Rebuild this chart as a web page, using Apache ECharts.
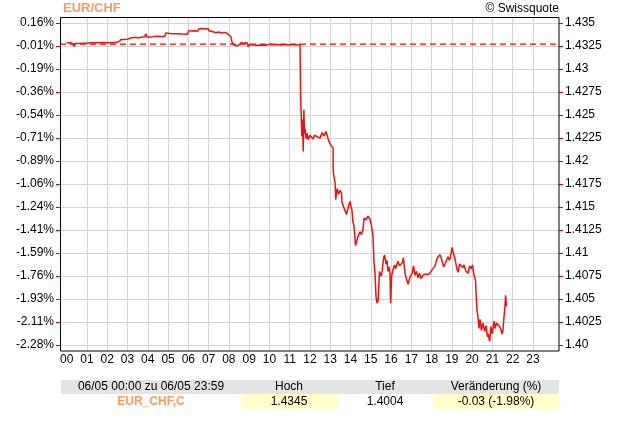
<!DOCTYPE html>
<html>
<head>
<meta charset="utf-8">
<script src="https://cdn.jsdelivr.net/npm/echarts@6/dist/echarts.min.js"></script>
<style>
html,body{margin:0;padding:0;background:#fff;}
#c{width:620px;height:440px;}
</style>
</head>
<body>
<div id="c"></div>
<script>
const hourLabels = ['00','01','02','03','04','05','06','07','08','09','10','11','12','13','14','15','16','17','18','19','20','21','22','23'];
const pctLabels = ['-2.28%','-2.11%','-1.93%','-1.76%','-1.59%','-1.41%','-1.24%','-1.06%','-0.89%','-0.71%','-0.54%','-0.36%','-0.19%','-0.01%','0.16%'];
const priceLabels = ['1.40','1.4025','1.405','1.4075','1.41','1.4125','1.415','1.4175','1.42','1.4225','1.425','1.4275','1.43','1.4325','1.435'];
const refPrice = [1.4327];
const tableHeader = ['06/05 00:00 zu 06/05 23:59','Hoch','Tief','Veränderung (%)'];
const tableRow = ['EUR_CHF,C','1.4345','1.4004','-0.03 (-1.98%)'];

const times = [
0.00,0.10,0.20,0.30,0.36,0.42,0.55,0.80,1.00,1.20,1.50,1.80,2.10,2.35,2.40,2.45,2.50,2.62,2.66,2.80,2.96,3.02,3.20,3.40,3.55,3.70,3.85,3.90,3.95,4.10,4.30,4.50,4.70,4.85,4.88,5.10,5.30,5.50,5.70,5.95,6.03,6.15,6.30,6.45,6.53,6.70,6.85,6.97,7.02,7.10,7.22,7.35,7.50,7.65,7.80,7.90,8.00,8.10,8.15,8.20,8.30,8.40,8.50,8.60,8.75,8.90,8.95,9.00,9.20,9.40,9.60,9.80,10.00,10.20,10.40,10.60,10.80,11.00,11.20,11.40,11.51,
11.54,11.57,11.60,11.63,11.67,11.70,11.73,11.76,11.81,11.86,11.92,12.00,12.08,12.15,12.22,12.30,12.40,12.50,12.60,12.69,12.79,12.86,12.94,13.04,13.14,
13.15,13.24,13.27,13.34,13.41,13.48,13.56,13.58,13.66,13.73,13.80,13.85,13.93,13.98,14.03,14.07,14.12,14.17,14.25,14.30,14.37,14.47,14.54,14.62,14.67,14.77,14.86,14.96,15.04,15.11,15.16,15.21,15.26,15.31,15.33,15.36,15.43,15.51,15.56,15.63,15.68,15.75,15.80,15.85,15.90,15.95,15.98,16.03,16.10,16.17,16.22,16.28,16.34,16.42,16.49,16.57,16.61,16.69,16.76,16.84,16.89,16.94,17.04,17.11,17.18,17.26,17.33,17.40,17.48,17.58,17.68,17.77,17.87,17.97,18.07,18.17,18.24,18.32,18.42,18.47,18.54,18.59,18.66,18.74,18.81,18.89,18.96,19.01,19.06,19.13,19.21,19.26,19.31,19.38,19.45,19.53,19.60,19.70,19.80,19.87,19.95,20.02,20.09,20.17,20.19,20.24,20.29,20.34,20.39,20.46,20.54,20.61,20.69,20.75,20.80,20.86,20.88,20.93,21.00,21.08,21.13,21.20,21.27,21.35,21.42,21.47,21.52,21.57,21.62,21.65,21.70,21.72
];
const prices = [
1.43289,1.43282,1.43285,1.43275,1.43246,1.43278,1.43278,1.43280,1.43280,1.43286,1.43284,1.43287,1.43285,1.43287,1.43300,1.43290,1.43302,1.43300,1.43322,1.43320,1.43322,1.43335,1.43340,1.43345,1.43338,1.43348,1.43350,1.43384,1.43350,1.43345,1.43352,1.43355,1.43350,1.43358,1.43391,1.43385,1.43383,1.43384,1.43380,1.43378,1.43420,1.43412,1.43415,1.43410,1.43438,1.43441,1.43436,1.43440,1.43416,1.43400,1.43405,1.43395,1.43402,1.43392,1.43398,1.43390,1.43370,1.43355,1.43300,1.43270,1.43258,1.43250,1.43262,1.43285,1.43280,1.43286,1.43240,1.43265,1.43262,1.43258,1.43262,1.43258,1.43268,1.43262,1.43266,1.43260,1.43265,1.43262,1.43266,1.43262,1.43268,
1.42702,1.42503,1.42267,1.42450,1.42104,1.42558,1.42300,1.42350,1.42240,1.42300,1.42232,1.42280,1.42300,1.42240,1.42280,1.42290,1.42260,1.42250,1.42310,1.42270,1.42320,1.42300,1.42210,1.42170,1.42140,
1.41873,1.41764,1.41579,1.41700,1.41640,1.41680,1.41650,1.41550,1.41500,1.41520,1.41420,1.41400,1.41530,1.41560,1.41500,1.41470,1.41340,1.41300,1.41080,1.41100,1.41180,1.41230,1.41200,1.41260,1.41380,1.41360,1.41400,1.41370,1.41290,1.41180,1.40900,1.40780,1.40520,1.40455,1.40500,1.40470,1.40800,1.40750,1.40800,1.40940,1.40980,1.40880,1.40920,1.40800,1.40850,1.40780,1.40456,1.40750,1.40820,1.40870,1.40830,1.40850,1.40910,1.40860,1.40870,1.40900,1.40950,1.40780,1.40720,1.40660,1.40700,1.40740,1.40780,1.40860,1.40760,1.40800,1.40730,1.40780,1.40720,1.40760,1.40770,1.40785,1.40770,1.40800,1.40830,1.40860,1.40920,1.40960,1.40980,1.40950,1.40930,1.40850,1.40880,1.40900,1.40960,1.40920,1.40990,1.41060,1.41010,1.40960,1.40940,1.40820,1.40790,1.40880,1.40890,1.40840,1.40870,1.40800,1.40780,1.40860,1.40830,1.40870,1.40760,1.40700,1.40580,1.40380,1.40300,1.40180,1.40280,1.40160,1.40240,1.40150,1.40210,1.40090,1.40120,1.40040,1.40070,1.40200,1.40120,1.40260,1.40180,1.40240,1.40250,1.40200,1.40170,1.40120,1.40160,1.40300,1.40420,1.40540,1.40420,1.40420
];

const chart = echarts.init(document.getElementById('c'), null, {renderer:'canvas'});
const FONT = 'Liberation Sans, Arial, sans-serif';
const series = times.map((t,i)=>[t, prices[i]]);
const refSeries = [[0, refPrice[0]], [1, refPrice[0]]];
const colX = [61, 241, 337, 433, 559];

const graphics = [
  {type:'text', left:63, top:2, style:{text:'EUR/CHF', font:'bold 13px '+FONT, fill:'#f79a66'}},
  {type:'text', right:61, top:3, style:{text:'© Swissquote', font:'12px '+FONT, fill:'#000'}},
  {type:'rect', shape:{x:60.5, y:17.5, width:498.5, height:333.5}, style:{fill:'none', stroke:'#000', lineWidth:1}, z:100},
  {type:'rect', shape:{x:colX[0], y:380, width:colX[4]-colX[0], height:14}, style:{fill:'#e4e4e4'}},
  {type:'rect', shape:{x:colX[1], y:394, width:colX[2]-colX[1], height:15}, style:{fill:'#ffffcc'}},
  {type:'rect', shape:{x:colX[3], y:394, width:colX[4]-colX[3], height:15}, style:{fill:'#ffffcc'}}
];
tableHeader.forEach((s,i)=>{
  graphics.push({type:'text', x:(colX[i]+colX[i+1])/2, y:387, style:{text:s, font:'12px '+FONT, fill:'#000', align:'center', verticalAlign:'middle'}});
});
tableRow.forEach((s,i)=>{
  graphics.push({type:'text', x:(colX[i]+colX[i+1])/2, y:401.5, style:{text:s, font:(i===0?'bold ':'')+'12px '+FONT, fill:(i===0?'#f79a66':'#000'), align:'center', verticalAlign:'middle'}});
});

const option = {
  animation:false,
  backgroundColor:'#fff',
  textStyle:{fontFamily:FONT},
  grid:[
    {left:60, right:61, top:23, bottom:95, show:false},
    {left:66.7, right:66.8, top:17, bottom:89, show:false},
    {left:66.7, right:66.8, top:23, bottom:95, show:false}
  ],
  xAxis:[
    {type:'value', gridIndex:0, min:0, max:1, show:false},
    {type:'value', gridIndex:1, min:0, max:24, interval:1,
      axisLine:{show:false}, axisTick:{show:false},
      splitLine:{show:true, showMinLine:false, showMaxLine:false, lineStyle:{color:'#d4d4d4', width:1}},
      axisLabel:{margin:3, fontSize:12, color:'#000', fontFamily:FONT,
        formatter:(v)=>hourLabels[Math.round(v)] || ''}},
    {type:'value', gridIndex:2, min:0, max:24, show:false}
  ],
  yAxis:[
    {type:'value', gridIndex:0, position:'left', min:1.40, max:1.435, interval:0.0025,
      axisLine:{show:false}, axisTick:{show:true, length:4, lineStyle:{color:'#dd0000'}},
      splitLine:{show:true, lineStyle:{color:'#d4d4d4', width:1}},
      axisLabel:{margin:6, fontSize:12, color:'#000', fontFamily:FONT,
        formatter:(v)=>pctLabels[Math.round((v-1.40)/0.0025)] || ''}},
    {type:'value', gridIndex:0, position:'right', min:1.40, max:1.435, interval:0.0025,
      axisLine:{show:false}, axisTick:{show:true, length:4, lineStyle:{color:'#dd0000'}},
      splitLine:{show:false},
      axisLabel:{margin:6, fontSize:12, color:'#000', fontFamily:FONT,
        formatter:(v)=>priceLabels[Math.round((v-1.40)/0.0025)] || ''}},
    {type:'value', gridIndex:1, min:0, max:1, show:false},
    {type:'value', gridIndex:2, min:1.40, max:1.435, show:false}
  ],
  series:[
    {type:'line', xAxisIndex:0, yAxisIndex:0, data:refSeries, showSymbol:false, symbol:'none', silent:true,
      lineStyle:{color:'#ff0000', type:[6,4], width:1.3}, z:4},
    {type:'line', xAxisIndex:2, yAxisIndex:3, data:series, showSymbol:false, symbol:'none', silent:true,
      lineStyle:{color:'#ee1111', width:1.5}, z:5}
  ],
  graphic:graphics
};
chart.setOption(option);
</script>
</body>
</html>
